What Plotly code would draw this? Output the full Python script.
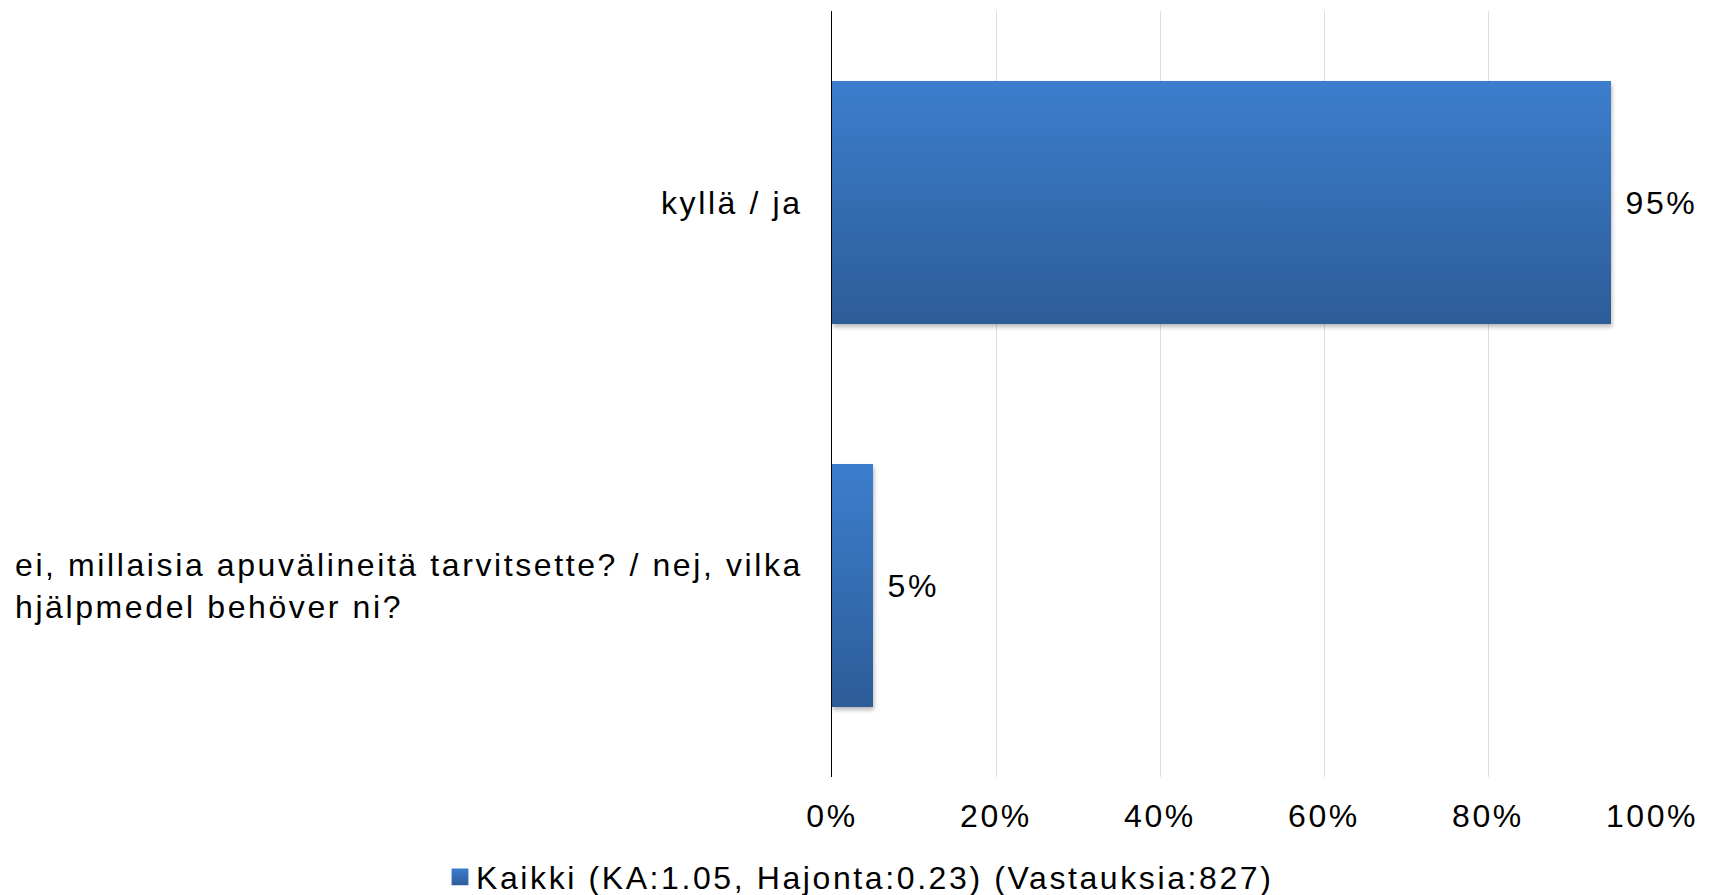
import plotly.graph_objects as go

categories = [
    "kyllä / ja",
    "ei, millaisia apuvälineitä tarvitsette? / nej, vilka<br>hjälpmedel behöver ni?",
]
values = [0.95, 0.05]
x_tick_values = [0, 0.2, 0.4, 0.6, 0.8, 1.0]
x_tick_labels = ["0%", "20%", "40%", "60%", "80%", "100%"]
series_name = "Kaikki (KA:1.05, Hajonta:0.23) (Vastauksia:827)"

FONT = "Liberation Sans, Arial, sans-serif"
FS = 32

fig = go.Figure()
fig.add_trace(go.Bar(
    y=categories,
    x=values,
    orientation="h",
    name=series_name,
    marker=dict(color="#356eb3", line=dict(width=0)),
    texttemplate=" %{x:.0%}",
    textposition="outside",
    constraintext="none",
    cliponaxis=False,
    textfont=dict(family=FONT, size=FS, color="#000000"),
    showlegend=True,
))

annotations = []
for c in categories:
    annotations.append(dict(
        x=0, xref="paper", y=c, yref="y",
        xanchor="right", yanchor="middle", align="left",
        xshift=-27, showarrow=False, text=c,
        font=dict(family=FONT, size=FS, color="#000000"),
    ))

fig.update_layout(
    width=1715, height=895,
    margin=dict(l=832, r=63, t=11, b=118),
    paper_bgcolor="white", plot_bgcolor="white",
    bargap=0.366,
    font=dict(family=FONT, size=FS, color="#000000"),
    xaxis=dict(
        range=[0, 1], tickvals=x_tick_values, ticktext=x_tick_labels,
        showgrid=True, gridcolor="#d7e1ed", gridwidth=1,
        zeroline=False, showline=False, ticks="",
        ticklabelstandoff=17,
        tickfont=dict(family=FONT, size=FS, color="#000000"),
        fixedrange=True,
    ),
    yaxis=dict(
        autorange="reversed", showticklabels=False,
        showline=True, linecolor="#000000", linewidth=1.3,
        showgrid=False, zeroline=False, ticks="", fixedrange=True,
    ),
    legend=dict(
        orientation="h", xref="container", yref="container",
        x=0.5, xanchor="center", y=0.02, yanchor="middle",
        font=dict(family=FONT, size=FS, color="#000000"),
        itemwidth=30,
    ),
    annotations=annotations,
)

post = r"""
var st=document.createElement('style');
st.innerHTML='body{margin:0;} text{letter-spacing:2.6px !important;} '
 + '.trace.bars .point path, .legendpoints path{fill:url(#kgrad) !important;} '
 + '.legendpoints path{transform:translate(24px,0px) scale(1.4);} '
 + '.trace.bars .point path{filter:drop-shadow(1px 3px 2px rgba(0,0,0,0.28));}';
document.head.appendChild(st);
var ns='http://www.w3.org/2000/svg';
var gsvg=document.createElementNS(ns,'svg');
gsvg.setAttribute('width','0');gsvg.setAttribute('height','0');
gsvg.style.position='absolute';gsvg.style.left='0';gsvg.style.top='0';
gsvg.innerHTML='<defs><linearGradient id="kgrad" x1="0" y1="0" x2="0" y2="1"><stop offset="0" stop-color="#3c7ecd"/><stop offset="1" stop-color="#2d5c98"/></linearGradient></defs>';
document.body.appendChild(gsvg);
var gd=document.getElementById('{plot_id}');
var d2=JSON.parse(JSON.stringify(gd.data).replace(/"size":32\b/g,'"size":32.01'));
var l2=JSON.parse(JSON.stringify(gd.layout).replace(/"size":32\b/g,'"size":32.01'));
Plotly.newPlot(gd,d2,l2,{displayModeBar:false});
"""

fig.write_html("out.html", config={"displayModeBar": False}, post_script=post)
